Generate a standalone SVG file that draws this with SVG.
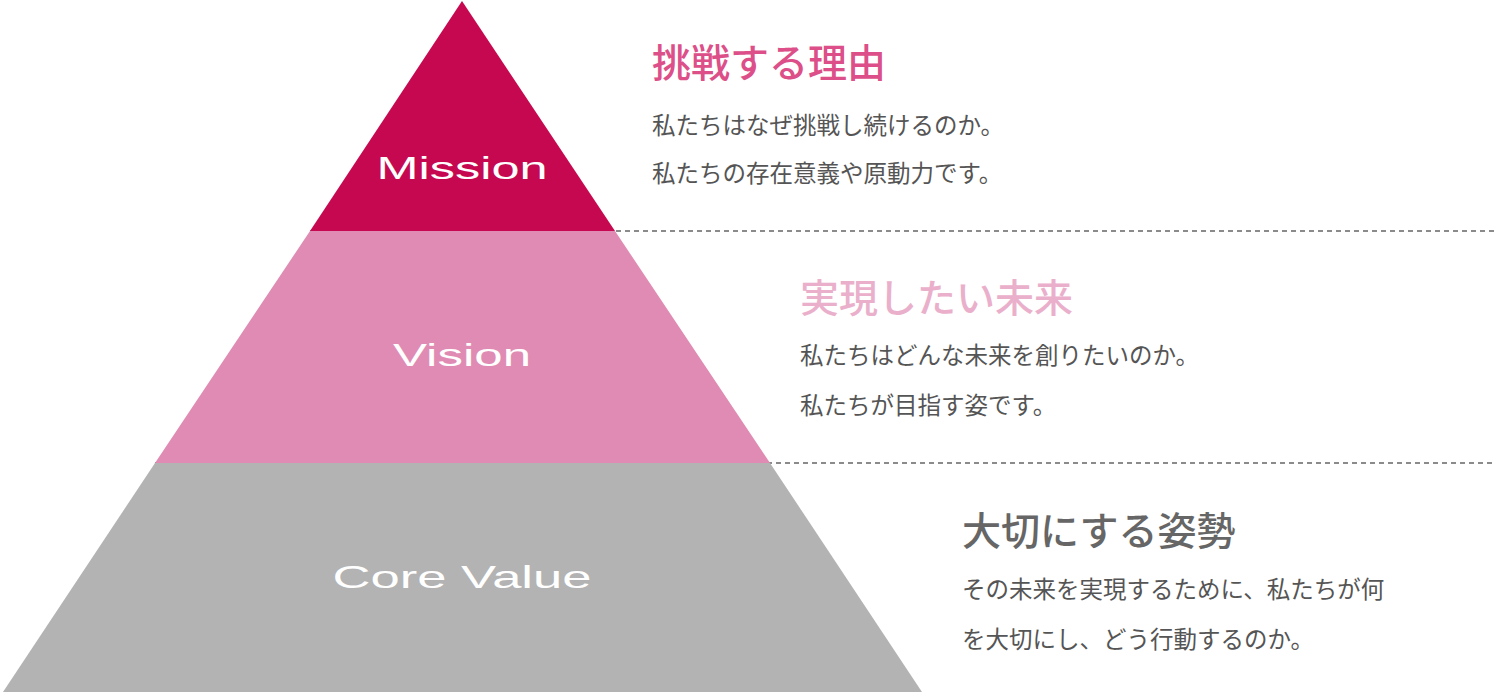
<svg xmlns="http://www.w3.org/2000/svg" width="1496" height="694" viewBox="0 0 1496 694">
<style>
.lbl{font-family:"Liberation Sans","DejaVu Sans",sans-serif;font-size:32px;fill:#fff;text-anchor:middle}
.h{font-family:"Noto Sans CJK JP",sans-serif;font-size:39px;font-weight:500}
.b{font-family:"Noto Sans CJK JP",sans-serif;font-size:23.5px;fill:#555}
.d{stroke:#666;stroke-width:1.5;stroke-dasharray:5 4;fill:none}
</style>
<rect width="1496" height="694" fill="#fff"/>
<g id="connectors">
<line class="d" x1="310" y1="231" x2="1496" y2="231"/>
<line class="d" x1="155" y1="463" x2="1496" y2="463"/>
</g>
<g id="mission">
<polygon points="462,1 615,231 310,231" fill="#c5084f"/>
<text class="lbl" x="462" y="179" textLength="171" lengthAdjust="spacingAndGlyphs">Mission</text>
<text class="h" x="652" y="77" fill="#dc4f88">挑戦する理由</text>
<text class="b" x="652" y="134">私たちはなぜ挑戦し続けるのか。</text>
<text class="b" x="652" y="182">私たちの存在意義や原動力です。</text>
</g>
<g id="vision">
<polygon points="310,231 615,231 770,463 155,463" fill="#e08bb3"/>
<text class="lbl" x="462" y="366" textLength="138" lengthAdjust="spacingAndGlyphs">Vision</text>
<text class="h" x="800" y="312" fill="#eab0cb">実現したい未来</text>
<text class="b" x="800" y="364">私たちはどんな未来を創りたいのか。</text>
<text class="b" x="800" y="414">私たちが目指す姿です。</text>
</g>
<g id="corevalue">
<polygon points="155,463 770,463 922,692 3,692" fill="#b3b3b3"/>
<text class="lbl" x="462" y="588" textLength="259" lengthAdjust="spacingAndGlyphs">Core Value</text>
<text class="h" x="962" y="545" fill="#666">大切にする姿勢</text>
<text class="b" x="962" y="598">その未来を実現するために、私たちが何</text>
<text class="b" x="962" y="648">を大切にし、どう行動するのか。</text>
</g>
</svg>
